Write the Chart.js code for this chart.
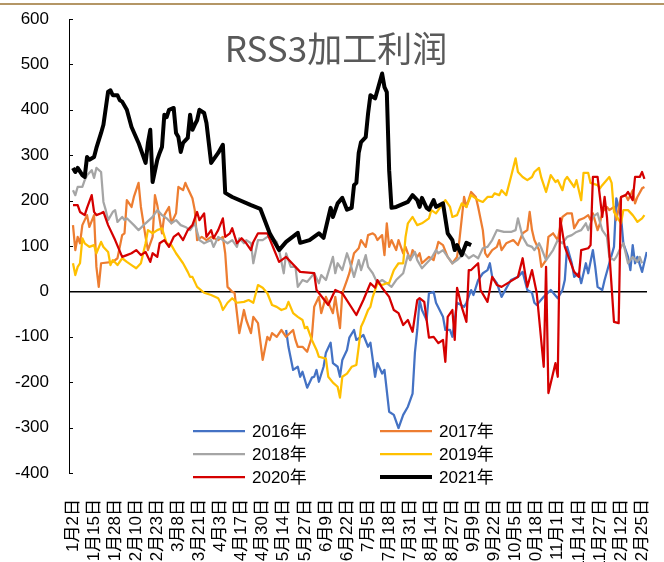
<!DOCTYPE html>
<html>
<head>
<meta charset="utf-8">
<script src="https://cdn.jsdelivr.net/npm/chart.js@4.4.0/dist/chart.umd.min.js"></script>
<style>
html, body { margin: 0; padding: 0; background: #fff; }
#wrap { position: relative; width: 664px; height: 562px; }
#topline { position: absolute; left: 0; top: 3px; width: 664px; height: 2px; background: #b49666; }
canvas { position: absolute; left: 0; top: 0; }
</style>
</head>
<body>
<div id="wrap">
<canvas id="rss_chart" width="664" height="562"></canvas>
<div id="topline"></div>
</div>
<script>
// tick labels, one every 9 trading days
var day_labels = ['1月2日', '1月15日', '1月28日', '2月10日', '2月23日', '3月8日', '3月21日', '4月3日',
    '4月17日', '4月30日', '5月14日', '5月27日', '6月9日', '6月22日', '7月5日', '7月18日', '7月31日',
    '8月14日', '8月27日', '9月9日', '9月22日', '10月5日', '10月18日', '11月1日', '11月14日',
    '11月27日', '12月12日', '12月25日'];

var series_names = ['2016年', '2017年', '2018年', '2019年', '2020年', '2021年'];
var series_colors = ['#4472C4', '#ED7D31', '#A5A5A5', '#FFC000', '#D50000', '#000000'];

// [trading day, profit]
var s2016 = [[91,-85],[92,-122],[94,-173],[96,-166],[97,-188],[98,-177],[100,-212],[102,-190],[103,-188],[104,-173],[105,-199],[107,-166],[108,-135],[110,-113],[111,-158],[113,-166],[114,-188],[115,-151],[117,-129],[118,-102],[120,-85],[121,-107],[123,-100],[124,-96],[126,-122],[127,-113],[129,-188],[130,-158],[132,-181],[133,-173],[135,-265],[137,-272],[139,-301],[141,-272],[143,-254],[145,-225],[146,-135],[147,-85],[148,-19],[149,-41],[151,-63],[152,-4],[154,-1],[155,-25],[158,-56],[159,-85],[160,-85],[161,-85],[162,-100],[164,-25],[167,-34],[168,-25],[170,3],[171,-8],[173,25],[175,40],[177,47],[178,62],[179,32],[181,18],[183,-12],[185,7],[187,25],[190,32],[192,43],[194,3],[196,-3],[197,-25],[198,-30],[201,-12],[204,3],[207,-15],[209,3],[210,25],[211,98],[213,62],[214,32],[216,40],[217,18],[219,62],[220,40],[222,91],[223,54],[224,10],[226,3],[227,25],[229,62],[231,98],[232,205],[234,164],[235,106],[237,76],[238,47],[239,102],[240,62],[241,76],[243,43],[245,87]];

var s2017 = [[0,146],[1,91],[2,120],[3,106],[4,146],[6,168],[7,142],[9,168],[10,54],[11,10],[12,62],[17,65],[19,73],[21,124],[22,128],[23,201],[25,186],[26,208],[28,239],[29,186],[31,120],[32,91],[34,120],[35,212],[36,190],[38,128],[39,168],[41,186],[42,150],[44,172],[45,230],[47,223],[48,239],[49,227],[51,205],[52,179],[53,113],[55,120],[57,113],[59,120],[62,113],[64,120],[65,84],[66,10],[68,-1],[69,-3],[71,-92],[73,-41],[74,-63],[76,-92],[77,-56],[79,-70],[81,-151],[83,-100],[84,-107],[85,-92],[87,-100],[89,-85],[91,-100],[94,-85],[95,-107],[96,-122],[98,-122],[100,-133],[102,-100],[103,-34],[105,-12],[106,-48],[108,-12],[111,-48],[112,-12],[113,-48],[114,-81],[115,-4],[117,25],[118,40],[119,62],[120,84],[122,95],[123,113],[125,98],[126,124],[128,128],[129,124],[130,113],[132,124],[133,80],[134,150],[135,98],[136,113],[138,91],[139,113],[141,84],[142,98],[144,69],[145,91],[147,76],[148,84],[149,62],[152,76],[154,69],[156,109],[158,102],[160,76],[162,62],[164,76],[165,113],[167,208],[168,186],[170,219],[172,208],[173,186],[175,135],[176,84],[177,76],[179,91],[181,98],[182,113],[183,91],[185,106],[188,113],[190,102],[192,128],[194,135],[195,175],[196,135],[197,113],[199,91],[200,54],[202,69],[203,120],[205,128],[207,113],[208,142],[209,164],[211,172],[213,172],[214,139],[216,157],[218,161],[220,168],[221,157],[222,172],[224,135],[225,150],[226,175],[228,186],[229,179],[231,186],[232,157],[234,208],[236,212],[237,201],[239,223],[240,194],[241,208],[243,227],[244,230]];

var s2018 = [[0,223],[1,212],[2,230],[4,230],[5,245],[6,256],[8,267],[9,250],[10,272],[12,263],[13,197],[14,179],[15,157],[17,175],[18,179],[19,153],[21,164],[22,157],[23,161],[26,146],[28,135],[31,150],[34,164],[36,179],[38,168],[40,161],[42,150],[44,157],[46,146],[48,142],[50,135],[52,150],[54,113],[56,106],[59,113],[60,98],[62,120],[64,113],[66,106],[68,113],[70,98],[71,117],[73,106],[74,113],[76,106],[77,62],[79,113],[81,113],[83,120],[85,120],[87,109],[88,91],[90,40],[91,84],[93,54],[95,54],[96,10],[98,25],[100,21],[103,40],[105,18],[106,36],[108,25],[111,76],[112,40],[113,62],[115,47],[117,84],[118,69],[120,32],[122,69],[123,47],[125,80],[126,54],[128,40],[130,18],[132,25],[134,18],[136,10],[138,25],[141,40],[143,80],[144,69],[146,87],[147,69],[149,51],[151,62],[153,73],[155,91],[156,84],[158,91],[160,76],[162,62],[164,69],[167,84],[169,73],[171,80],[173,73],[175,95],[177,98],[179,113],[181,135],[184,131],[187,131],[189,135],[190,161],[192,120],[194,102],[196,98],[197,91],[199,106],[200,95],[202,69],[203,76],[205,91],[207,113],[209,106],[211,120],[213,124],[215,131],[217,135],[219,150],[220,135],[222,164],[224,172],[225,153],[226,135],[228,120],[229,76],[231,69],[232,76],[234,98],[235,106],[237,62],[238,69],[239,76],[241,65],[242,76],[243,62]];

var s2019 = [[0,62],[1,36],[2,54],[3,62],[4,117],[5,106],[7,98],[9,102],[10,84],[12,109],[13,98],[15,87],[16,58],[17,69],[19,58],[21,73],[23,65],[25,58],[27,51],[29,62],[31,106],[32,135],[34,128],[36,135],[38,139],[40,106],[42,102],[44,84],[47,62],[49,43],[50,32],[51,32],[53,10],[56,-3],[59,-8],[62,-15],[63,-25],[64,-41],[66,-25],[68,-15],[70,-25],[73,-23],[75,-19],[77,-25],[79,14],[81,8],[83,-4],[85,-30],[87,-34],[89,-41],[91,-37],[92,-23],[94,-48],[96,-56],[98,-63],[99,-81],[100,-78],[102,-107],[104,-129],[105,-144],[108,-148],[109,-188],[111,-201],[113,-210],[114,-234],[115,-188],[117,-181],[119,-166],[121,-162],[122,-122],[123,-78],[124,-67],[126,-41],[127,-34],[128,-12],[130,18],[132,14],[134,18],[135,18],[137,47],[139,62],[141,62],[142,120],[143,150],[145,164],[147,146],[149,150],[152,161],[153,179],[155,172],[158,194],[159,201],[161,186],[162,164],[164,168],[166,194],[168,186],[170,212],[173,201],[175,197],[177,208],[179,208],[180,216],[182,212],[183,223],[185,212],[187,252],[189,293],[190,263],[192,252],[194,245],[196,252],[197,263],[199,272],[200,250],[202,219],[204,256],[206,241],[207,245],[209,223],[210,245],[211,252],[214,230],[215,245],[217,201],[218,261],[220,261],[221,239],[224,234],[225,227],[226,234],[229,252],[230,239],[231,175],[234,150],[235,179],[237,179],[239,168],[240,161],[241,153],[243,161],[244,168]];

var s2020 = [[0,190],[2,190],[3,175],[5,168],[6,184],[8,212],[9,175],[10,168],[12,172],[13,175],[15,146],[18,113],[21,76],[23,80],[25,84],[27,91],[29,80],[31,87],[33,65],[34,84],[36,76],[37,106],[39,113],[41,98],[43,120],[45,128],[47,113],[49,135],[51,146],[53,175],[54,157],[56,172],[57,120],[59,135],[60,117],[62,135],[64,161],[65,120],[67,128],[68,139],[70,106],[72,117],[74,106],[76,91],[77,109],[79,128],[83,128],[88,65],[91,76],[97,43],[103,40],[104,3],[109,-30],[112,3],[115,-4],[121,-52],[124,-19],[127,18],[129,8],[130,25],[132,8],[135,-12],[137,-41],[139,-48],[141,-74],[143,-63],[145,-89],[147,-19],[148,-15],[150,-23],[152,-102],[154,-100],[156,-114],[158,-107],[159,-155],[160,-56],[162,-41],[163,-107],[164,8],[166,-34],[168,-67],[169,47],[170,47],[173,62],[174,3],[177,-23],[179,32],[181,14],[183,10],[190,32],[192,73],[194,10],[196,47],[198,-3],[201,-166],[202,54],[203,-224],[206,-158],[207,-188],[208,161],[210,98],[214,43],[216,32],[217,91],[220,95],[221,102],[222,252],[224,252],[226,164],[227,208],[228,164],[231,-67],[233,-70],[234,208],[236,212],[237,219],[239,201],[240,252],[242,252],[243,263],[244,248]];

var s2021 = [[0,272],[1,263],[2,272],[4,256],[5,252],[6,296],[7,290],[9,296],[10,316],[12,349],[13,367],[15,440],[16,443],[17,432],[19,432],[20,421],[21,418],[23,400],[25,362],[28,327],[31,283],[32,327],[33,356],[34,241],[36,290],[37,305],[38,318],[39,389],[40,384],[41,400],[43,404],[44,349],[45,340],[46,307],[47,327],[49,338],[50,389],[51,356],[52,367],[53,377],[54,400],[56,393],[57,371],[59,283],[62,305],[64,323],[65,217],[68,208],[76,190],[80,182],[84,128],[88,91],[91,109],[96,129],[97,107],[101,113],[105,128],[107,118],[110,184],[111,164],[113,194],[115,206],[117,180],[119,184],[120,234],[121,239],[122,305],[123,329],[125,340],[126,392],[127,432],[129,425],[130,443],[132,480],[133,450],[134,439],[135,267],[136,184],[138,186],[143,197],[145,212],[147,201],[148,186],[149,206],[151,184],[152,180],[154,201],[155,186],[158,194],[160,128],[162,113],[163,91],[164,102],[166,80],[168,107],[170,102]];

var all_series = [s2016, s2017, s2018, s2019, s2020, s2021];
var LABEL_STEP = 9;
var FONT = '"Liberation Sans", "Noto Sans CJK SC", sans-serif';

function buildDatasets() {
    var sets = [];
    for (var i = 0; i < all_series.length; i++) {
        sets.push({
            label: series_names[i],
            data: all_series[i].map(function (p) { return { x: p[0], y: p[1] }; }),
            borderColor: series_colors[i],
            backgroundColor: series_colors[i],
            borderWidth: i == 5 ? 4 : 2.25,
            pointRadius: 0,
            tension: 0,
            borderJoinStyle: 'round',
            order: all_series.length - i
        });
    }
    return sets;
}

// title, legend and the short inner ticks of the value axis
var decorPlugin = {
    id: 'decor',
    afterDraw: function (chart) {
        var ctx = chart.ctx;
        var yScale = chart.scales.y;
        var left = chart.chartArea.left;
        ctx.save();
        ctx.strokeStyle = '#000';
        ctx.lineWidth = 1;
        yScale.ticks.forEach(function (t) {
            var py = Math.round(yScale.getPixelForValue(t.value)) + 0.5;
            ctx.beginPath();
            ctx.moveTo(left, py);
            ctx.lineTo(left + 4, py);
            ctx.stroke();
        });

        ctx.fillStyle = '#595959';
        ctx.font = '35px "Noto Sans CJK SC", sans-serif';
        ctx.textAlign = 'center';
        ctx.textBaseline = 'middle';
        ctx.fillText('RSS3加工利润', 336, 49);

        ctx.font = '17px ' + FONT;
        ctx.textAlign = 'left';
        chart.data.datasets.forEach(function (ds, i) {
            var col = i % 2, row = Math.floor(i / 2);
            var lx = 193 + col * 187;
            var ly = 431 + row * 23;
            ctx.strokeStyle = ds.borderColor;
            ctx.lineWidth = ds.borderWidth;
            ctx.beginPath();
            ctx.moveTo(lx, ly);
            ctx.lineTo(lx + 52, ly);
            ctx.stroke();
            ctx.fillStyle = '#000';
            ctx.fillText(ds.label, lx + 59, ly + 1);
        });
        ctx.restore();
    }
};

function buildRssChart() {
    var el = document.getElementById('rss_chart');
    new Chart(el, {
        type: 'line',
        data: { datasets: buildDatasets() },
        plugins: [decorPlugin],
        options: {
            responsive: false,
            animation: false,
            layout: { padding: { top: 19, right: 17, left: 0, bottom: 0 } },
            plugins: {
                legend: { display: false },
                tooltip: { enabled: false }
            },
            scales: {
                x: {
                    type: 'linear',
                    min: -1.7,
                    max: 245.1,
                    afterFit: function (s) {
                        s.height = 89;
                        s.paddingLeft = 0;
                        s.paddingRight = 0;
                    },
                    afterBuildTicks: function (s) {
                        s.ticks = day_labels.map(function (l, i) { return { value: i * LABEL_STEP }; });
                    },
                    grid: { display: false },
                    border: { display: false },
                    ticks: {
                        autoSkip: false,
                        minRotation: 90,
                        maxRotation: 90,
                        padding: 18,
                        color: '#000',
                        font: { family: FONT, size: 17 },
                        callback: function (v) { return day_labels[Math.round(v / LABEL_STEP)]; }
                    }
                },
                y: {
                    min: -400,
                    max: 600,
                    afterFit: function (s) {
                        s.width = 69;
                        s.paddingTop = 0;
                        s.paddingBottom = 0;
                    },
                    ticks: {
                        stepSize: 100,
                        padding: 20,
                        color: '#000',
                        font: { family: FONT, size: 17 }
                    },
                    grid: {
                        drawTicks: false,
                        lineWidth: 1.5,
                        color: function (c) { return c.tick && c.tick.value === 0 ? '#000' : 'rgba(0,0,0,0)'; }
                    },
                    border: { display: true, color: '#000', width: 1 }
                }
            }
        }
    });
}

buildRssChart();
</script>
</body>
</html>
